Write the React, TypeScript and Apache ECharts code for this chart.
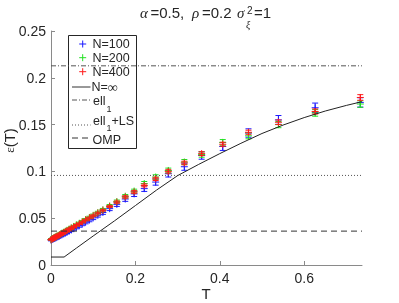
import React, { useEffect, useRef } from 'react';
import * as echarts from 'echarts';

// ---- data ----
const T = [
  0.000, 0.002, 0.004, 0.006, 0.008, 0.010, 0.012, 0.014, 0.017, 0.020,
  0.023, 0.026, 0.030, 0.034, 0.038, 0.043, 0.048, 0.054, 0.060, 0.067,
  0.074, 0.082, 0.091, 0.100, 0.111, 0.123, 0.139, 0.156, 0.176, 0.197,
  0.221, 0.248, 0.278, 0.316, 0.357, 0.407, 0.468, 0.539, 0.626, 0.733,
];
const N100 = [
  0.0268, 0.0272, 0.0276, 0.0280, 0.0284, 0.0288, 0.0292, 0.0296, 0.0303, 0.0309,
  0.0316, 0.0323, 0.0332, 0.0341, 0.0350, 0.0362, 0.0374, 0.0388, 0.0403, 0.0420,
  0.0437, 0.0457, 0.0480, 0.0503, 0.0531, 0.0561, 0.0602, 0.0648, 0.0705, 0.0760,
  0.0816, 0.0886, 0.0975, 0.1050, 0.1170, 0.1266, 0.1410, 0.1550, 0.1680, 0.1737,
];
const N200 = [
  0.0272, 0.0278, 0.0283, 0.0288, 0.0293, 0.0298, 0.0303, 0.0309, 0.0317, 0.0324,
  0.0332, 0.0340, 0.0350, 0.0361, 0.0371, 0.0384, 0.0397, 0.0412, 0.0428, 0.0446,
  0.0464, 0.0485, 0.0508, 0.0531, 0.0560, 0.0590, 0.0631, 0.0678, 0.0735, 0.0790,
  0.0870, 0.0940, 0.1010, 0.1100, 0.1180, 0.1310, 0.1380, 0.1500, 0.1625, 0.1720,
];
const N400 = [
  0.0270, 0.0276, 0.0281, 0.0286, 0.0291, 0.0296, 0.0301, 0.0306, 0.0314, 0.0321,
  0.0329, 0.0337, 0.0347, 0.0357, 0.0367, 0.0380, 0.0393, 0.0408, 0.0424, 0.0441,
  0.0459, 0.0480, 0.0503, 0.0526, 0.0555, 0.0585, 0.0626, 0.0672, 0.0727, 0.0780,
  0.0850, 0.0920, 0.1000, 0.1090, 0.1190, 0.1290, 0.1418, 0.1525, 0.1640, 0.1790,
];
const E100 = [
  0.0010, 0.0010, 0.0010, 0.0010, 0.0011, 0.0011, 0.0011, 0.0011, 0.0012, 0.0012,
  0.0012, 0.0013, 0.0013, 0.0013, 0.0014, 0.0014, 0.0015, 0.0015, 0.0016, 0.0016,
  0.0017, 0.0017, 0.0018, 0.0018, 0.0019, 0.0020, 0.0021, 0.0022, 0.0025, 0.0028,
  0.0030, 0.0033, 0.0035, 0.0038, 0.0040, 0.0042, 0.0045, 0.0047, 0.0050, 0.0050,
];
const E200 = [
  0.0007, 0.0007, 0.0007, 0.0007, 0.0008, 0.0008, 0.0008, 0.0008, 0.0008, 0.0009,
  0.0009, 0.0009, 0.0009, 0.0010, 0.0010, 0.0010, 0.0011, 0.0011, 0.0011, 0.0012,
  0.0012, 0.0012, 0.0013, 0.0013, 0.0014, 0.0014, 0.0015, 0.0016, 0.0018, 0.0020,
  0.0022, 0.0024, 0.0025, 0.0027, 0.0028, 0.0030, 0.0032, 0.0033, 0.0035, 0.0035,
];
const E400 = [
  0.0005, 0.0005, 0.0005, 0.0005, 0.0005, 0.0006, 0.0006, 0.0006, 0.0006, 0.0006,
  0.0006, 0.0006, 0.0007, 0.0007, 0.0007, 0.0007, 0.0008, 0.0008, 0.0008, 0.0008,
  0.0009, 0.0009, 0.0009, 0.0010, 0.0010, 0.0010, 0.0011, 0.0012, 0.0013, 0.0014,
  0.0015, 0.0017, 0.0018, 0.0019, 0.0020, 0.0021, 0.0022, 0.0024, 0.0027, 0.0030,
];
const INF_T = [0, 0.031, 0.06, 0.1, 0.15, 0.2, 0.25, 0.3, 0.35, 0.4, 0.45, 0.5, 0.55, 0.6, 0.65, 0.7, 0.737];
const INF_V = [0.0085, 0.0085, 0.018, 0.031, 0.047, 0.0635, 0.080, 0.0955, 0.1075, 0.119, 0.130, 0.1405, 0.1495, 0.1575, 0.1645, 0.1705, 0.1745];
const ELL1 = 0.2128;
const ELL1_LS = 0.0957;
const OMP = 0.0362;
const X_MAX = 0.737;
const X_TICKS = [0, 0.2, 0.4, 0.6];

const SANS = 'Liberation Sans, Arial, sans-serif';
const SERIF = 'Liberation Serif, Times New Roman, serif';
const TXT = '#262626';
const LINE = '#333333';
const BLUE = '#1a1aff';
const GREEN = '#22e022';
const RED = '#ff1a1a';

function errSeries(name: string, vals: number[], errs: number[], color: string) {
  return {
    type: 'custom',
    name,
    clip: false,
    data: T.map((t, i) => [t, vals[i], errs[i]]),
    encode: { x: 0, y: 1 },
    renderItem: (_p: any, api: any) => {
      const x = api.value(0);
      const y = api.value(1);
      const e = api.value(2);
      const c = api.coord([x, y]);
      const top = api.coord([x, y + e]);
      const bot = api.coord([x, y - e]);
      const cw = 3;
      const m = 3.5;
      const st = { stroke: color, lineWidth: 1, fill: 'none' };
      return {
        type: 'group',
        children: [
          { type: 'line', shape: { x1: c[0], y1: top[1], x2: c[0], y2: bot[1] }, style: st },
          { type: 'line', shape: { x1: c[0] - cw, y1: top[1], x2: c[0] + cw, y2: top[1] }, style: st },
          { type: 'line', shape: { x1: c[0] - cw, y1: bot[1], x2: c[0] + cw, y2: bot[1] }, style: st },
          { type: 'line', shape: { x1: c[0] - m, y1: c[1], x2: c[0] + m, y2: c[1] }, style: st },
          { type: 'line', shape: { x1: c[0], y1: c[1] - m, x2: c[0], y2: c[1] + m }, style: st },
        ],
      };
    },
  };
}

function hline(name: string, v: number, dash: any, color = LINE) {
  return {
    type: 'line',
    name,
    data: [[0, v], [X_MAX, v]],
    symbol: 'none',
    lineStyle: { color, width: 1, type: dash },
    silent: true,
  };
}

function plus(x: number, y: number, color: string) {
  const m = 3.5;
  return [
    { type: 'line', shape: { x1: x - m, y1: y, x2: x + m, y2: y }, style: { stroke: color, lineWidth: 1 } },
    { type: 'line', shape: { x1: x, y1: y - m, x2: x, y2: y + m }, style: { stroke: color, lineWidth: 1 } },
  ];
}

function ltext(x: number, y: number, text: string, size = 12.5, extra: any = {}) {
  return {
    type: 'text',
    x,
    y,
    style: { text, fontSize: size, fontFamily: SANS, fill: TXT, align: 'left', verticalAlign: 'middle', ...extra },
  };
}

function lline(y: number, dash: any, color = LINE) {
  return {
    type: 'line',
    shape: { x1: 72, y1: y, x2: 90.5, y2: y },
    style: { stroke: color, lineWidth: 1, lineDash: dash },
  };
}

const option: any = {
  animation: false,
  grid: { left: 51, top: 31, right: 37, bottom: 38 },
  xAxis: {
    type: 'value',
    min: 0,
    max: X_MAX,
    axisLine: { lineStyle: { color: '#8a8a8a', width: 1 } },
    axisTick: { inside: true, length: 4, customValues: X_TICKS, lineStyle: { color: '#8a8a8a' } },
    axisLabel: { customValues: X_TICKS, color: TXT, fontSize: 14, fontFamily: SANS, margin: 6 },
    splitLine: { show: false },
  },
  yAxis: {
    type: 'value',
    min: 0,
    max: 0.25,
    interval: 0.05,
    axisLine: { show: true, lineStyle: { color: '#8a8a8a', width: 1 } },
    axisTick: { show: true, inside: true, length: 4, lineStyle: { color: '#8a8a8a' } },
    axisLabel: { color: TXT, fontSize: 14, fontFamily: SANS, margin: 5 },
    splitLine: { show: false },
  },
  series: [
    hline('ell1', ELL1, [5, 2, 1, 2], '#555555'),
    hline('ell1+LS', ELL1_LS, [1, 2], '#555555'),
    hline('OMP', OMP, [6, 4]),
    {
      type: 'line',
      name: 'N=inf',
      data: INF_T.map((t, i) => [t, INF_V[i]]),
      symbol: 'none',
      lineStyle: { color: '#222222', width: 1 },
    },
    errSeries('N=100', N100, E100, BLUE),
    errSeries('N=200', N200, E200, GREEN),
    errSeries('N=400', N400, E400, RED),
  ],
  graphic: [
    // title
    { type: 'text', x: 140, y: 12.5, style: { text: 'α', fontSize: 15, fontFamily: SERIF, fontStyle: 'italic', fill: TXT, verticalAlign: 'middle' } },
    { type: 'text', x: 150.5, y: 12.5, style: { text: '=0.5,', fontSize: 15, fontFamily: SANS, fill: TXT, verticalAlign: 'middle' } },
    { type: 'text', x: 192, y: 12.5, style: { text: 'ρ', fontSize: 15, fontFamily: SERIF, fontStyle: 'italic', fill: TXT, verticalAlign: 'middle' } },
    { type: 'text', x: 202, y: 12.5, style: { text: '=0.2', fontSize: 15, fontFamily: SANS, fill: TXT, verticalAlign: 'middle' } },
    { type: 'text', x: 237, y: 12.5, style: { text: 'σ', fontSize: 15, fontFamily: SERIF, fontStyle: 'italic', fill: TXT, verticalAlign: 'middle' } },
    { type: 'text', x: 247, y: 10, style: { text: '2', fontSize: 10, fontFamily: SANS, fill: TXT, verticalAlign: 'middle' } },
    { type: 'text', x: 246, y: 24.5, style: { text: 'ξ', fontSize: 10, fontFamily: SERIF, fontStyle: 'italic', fill: TXT, verticalAlign: 'middle' } },
    { type: 'text', x: 254, y: 12.5, style: { text: '=1', fontSize: 15, fontFamily: SANS, fill: TXT, verticalAlign: 'middle' } },
    // axis names
    { type: 'text', x: 206, y: 293, style: { text: 'T', fontSize: 15, fontFamily: SANS, fill: TXT, align: 'center', verticalAlign: 'middle' } },
    {
      type: 'text', x: 9, y: 140.5, rotation: Math.PI / 2,
      style: {
        text: '{e|ε}(T)', fontSize: 15, fontFamily: SANS, fill: TXT, align: 'center', verticalAlign: 'middle',
        rich: { e: { fontSize: 13, fontFamily: SERIF, fill: TXT } },
      },
    },
    // legend
    {
      type: 'group',
      children: [
        { type: 'rect', shape: { x: 68.5, y: 35.5, width: 68, height: 113 }, style: { fill: '#ffffff', stroke: '#262626', lineWidth: 1 } },
        ...plus(82.7, 44, BLUE),
        ltext(92.5, 44, 'N=100'),
        ...plus(82.7, 57.7, GREEN),
        ltext(92.5, 57.7, 'N=200'),
        ...plus(82.7, 71.7, RED),
        ltext(92.5, 71.7, 'N=400'),
        lline(87, []),
        { type: 'text', x: 91.5, y: 87, style: { text: 'N={i|∞}', fontSize: 12.5, fontFamily: SANS, fill: TXT, verticalAlign: 'middle', rich: { i: { fontSize: 14, fontFamily: SERIF, fill: TXT } } } },
        lline(100, [5, 2, 1, 2], '#555555'),
        ltext(93, 100.5, 'ell'),
        ltext(106.5, 108.5, '1', 9),
        lline(125, [1, 2], '#555555'),
        ltext(93, 120.5, 'ell'),
        ltext(106.5, 128, '1', 9),
        ltext(111.5, 120.5, '+LS'),
        lline(138, [6, 4]),
        ltext(92.5, 139.5, 'OMP'),
      ],
    },
  ],
};

export default function App() {
  const ref = useRef<HTMLDivElement>(null);
  useEffect(() => {
    const chart = echarts.init(ref.current as HTMLDivElement, null, { renderer: 'svg' });
    chart.setOption(option);
    return () => chart.dispose();
  }, []);
  return <div ref={ref} style={{ position: 'fixed', left: 0, top: 0, width: 399, height: 303 }} />;
}
